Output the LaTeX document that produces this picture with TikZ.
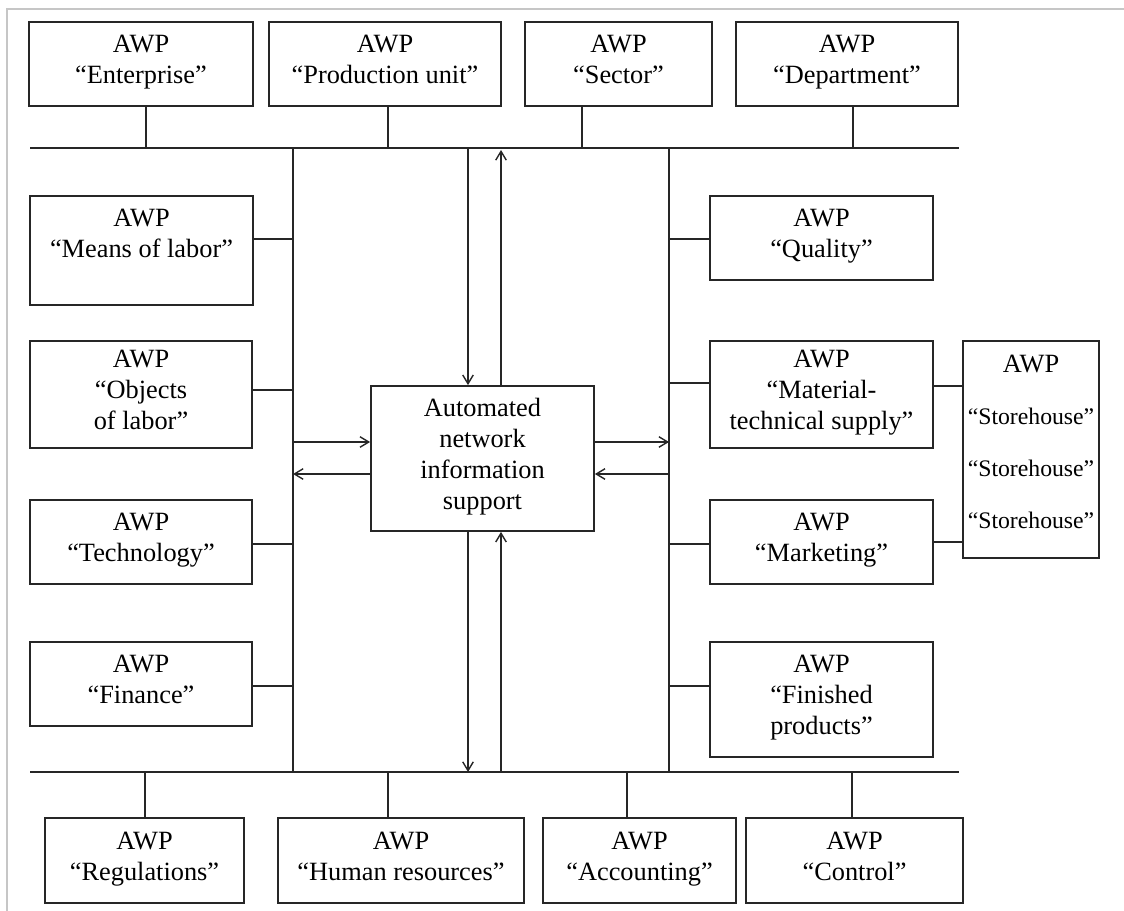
\documentclass[tikz,border=0pt]{standalone}
\usepackage{fontspec}
\setmainfont{Liberation Serif}
\usetikzlibrary{arrows.meta}
\begin{document}
\begin{tikzpicture}[x=0.02cm,y=-0.02cm,
  awp/.style={draw=black!85, line width=1pt, inner sep=0pt, align=center,
    font=\fontsize{15}{17.6}\selectfont,
    execute at begin node=\strut, execute at end node=\strut},
  sz/.style 2 args={minimum width=#1*0.02cm, minimum height=#2*0.02cm},
  bus/.style={draw=black!85, line width=0.9pt},
  link/.style={draw=black!85, line width=0.8pt},
  >={Straight Barb[length=5pt,width=6pt]}]
\useasboundingbox (0,0) rectangle (1124,911);
\draw[gray!45, line width=0.6pt] (7,911) -- (7,9) -- (1124,9);
% buses
\coordinate (tl) at (30,148);  \coordinate (tr) at (959,148);
\coordinate (bl) at (30,772);  \coordinate (br) at (959,772);
\coordinate (lt) at (293,148); \coordinate (lb) at (293,772);
\coordinate (rt) at (669,148); \coordinate (rb) at (669,772);
\draw[bus] (tl) -- (tr);
\draw[bus] (bl) -- (br);
\draw[bus] (lt) -- (lb);
\draw[bus] (rt) -- (rb);
% top row
\node[awp, sz={224}{84}] (ent) at (141,64) {AWP\\“Enterprise”};
\node[awp, sz={232}{84}] (pro) at (385,64) {AWP\\“Production unit”};
\node[awp, sz={187}{84}] (sec) at (618.5,64) {AWP\\“Sector”};
\node[awp, sz={222}{84}] (dep) at (847,64) {AWP\\“Department”};
% left column
\node[awp, sz={223}{109}] (mean) at (141.5,250.5) {AWP\\“Means of labor”\\[-3pt]};
\node[awp, sz={222}{107}] (obj) at (141,394.5) {AWP\\“Objects\\of labor”};
\node[awp, sz={222}{84}] (tech) at (141,542) {AWP\\“Technology”};
\node[awp, sz={222}{84}] (fin) at (141,684) {AWP\\“Finance”};
% right column
\node[awp, sz={223}{84}] (qual) at (821.5,238) {AWP\\“Quality”};
\node[awp, sz={223}{107}] (mat) at (821.5,394.5) {AWP\\“Material-\\technical supply”};
\node[awp, sz={223}{84}] (mark) at (821.5,542) {AWP\\“Marketing”};
\node[awp, sz={223}{115}] (finp) at (821.5,699.5) {AWP\\“Finished\\products”};
\node[awp, sz={136}{217}, font=\fontsize{13.5}{29.5}\selectfont,
  execute at begin node={}, execute at end node={}] (store) at (1031,449.5)
  {{\fontsize{15}{29.5}\selectfont AWP}\\“Storehouse”\\“Storehouse”\\“Storehouse”};
% bottom row
\node[awp, sz={199}{85}] (reg) at (144.5,860.5) {AWP\\“Regulations”};
\node[awp, sz={246}{85}] (hum) at (401,860.5) {AWP\\“Human resources”};
\node[awp, sz={193}{85}] (acc) at (639.5,860.5) {AWP\\“Accounting”};
\node[awp, sz={217}{85}] (ctrl) at (854.5,860.5) {AWP\\“Control”};
% centre
\node[awp, sz={223}{145}] (hub) at (482.5,458.5) {Automated\\network\\information\\support};
% taps to the buses
\foreach \n/\x in {ent/146, pro/388, sec/582, dep/853} {
  \coordinate (t\n) at (\x,148);
  \draw[link] (\n.south -| t\n) -- (t\n);
}
\foreach \n/\x in {reg/145, hum/388, acc/627, ctrl/852} {
  \coordinate (b\n) at (\x,772);
  \draw[link] (b\n) -- (\n.north -| b\n);
}
\foreach \n/\y in {mean/239, obj/390, tech/544, fin/686} {
  \coordinate (l\n) at (293,\y);
  \draw[link] (\n.east |- l\n) -- (l\n);
}
\foreach \n/\y in {qual/239, mat/383, mark/544, finp/686} {
  \coordinate (r\n) at (669,\y);
  \draw[link] (r\n) -- (\n.west |- r\n);
}
\coordinate (s1) at (963,386);
\coordinate (s2) at (963,542);
\draw[link] (mat.east |- s1) -- (s1);
\draw[link] (mark.east |- s2) -- (s2);
% arrows to and from the centre
\coordinate (cd1) at (468,148); \coordinate (cu1) at (501,150);
\coordinate (cd2) at (468,772); \coordinate (cu2) at (501,772);
\draw[link, ->] (cd1) -- (hub.north -| cd1);
\draw[link, ->] (hub.north -| cu1) -- (cu1);
\draw[link, ->] (hub.south -| cd2) -- (cd2);
\draw[link, ->] (cu2) -- (hub.south -| cu2);
\coordinate (la) at (293,442); \coordinate (lbk) at (293,474);
\coordinate (ra) at (669,442); \coordinate (rbk) at (669,474);
\draw[link, ->] (la) -- (hub.west |- la);
\draw[link, ->] (hub.west |- lbk) -- (lbk);
\draw[link, ->] (hub.east |- ra) -- (ra);
\draw[link, ->] (rbk) -- (hub.east |- rbk);
\end{tikzpicture}
\end{document}
